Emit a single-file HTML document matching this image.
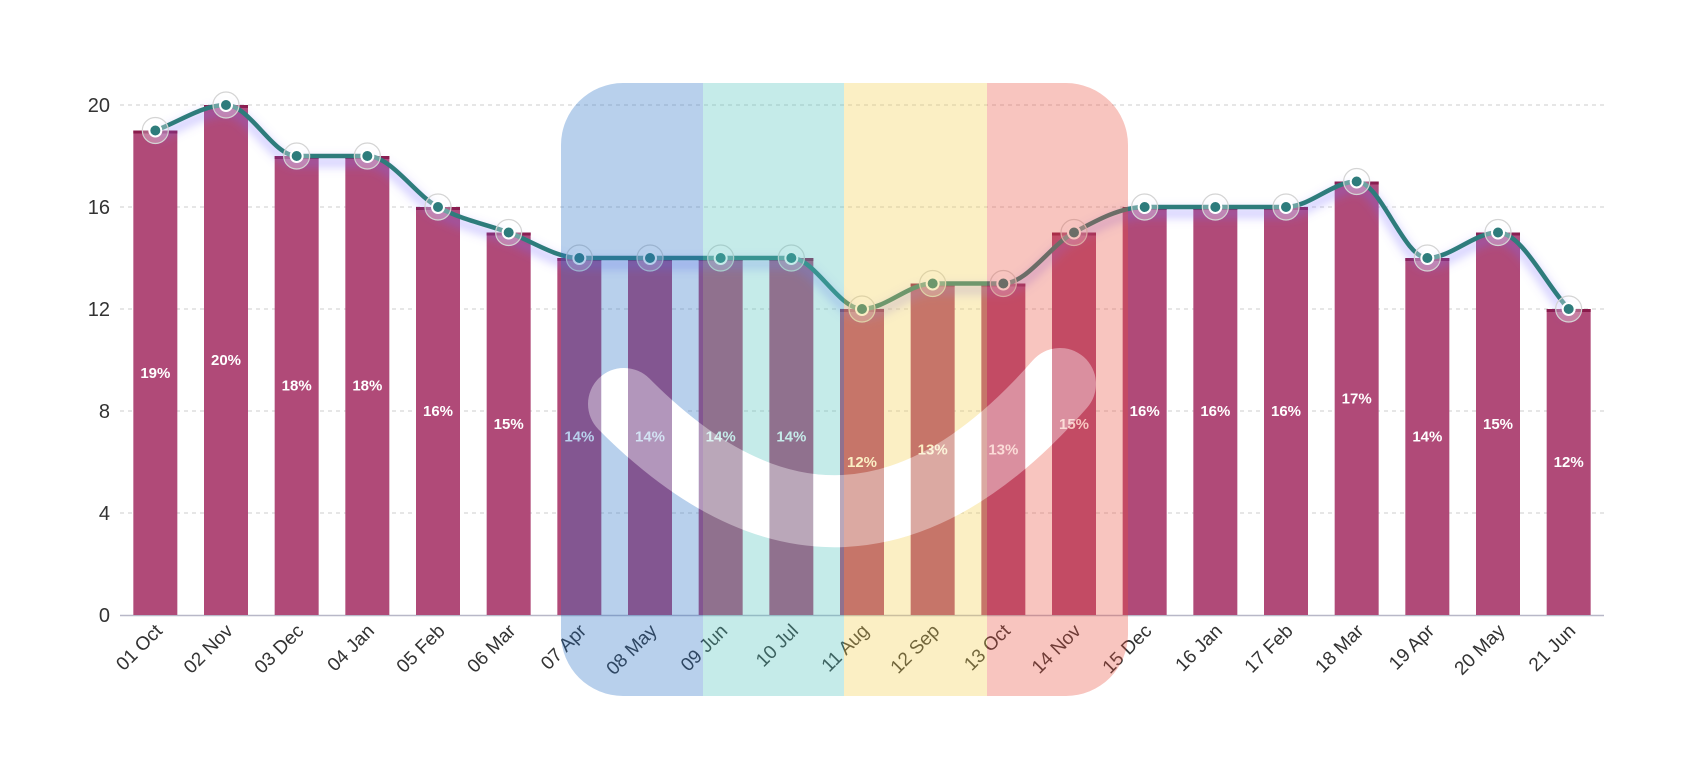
<!DOCTYPE html>
<html><head><meta charset="utf-8"><style>
html,body{margin:0;padding:0;background:#fff;}
svg{display:block;font-family:"Liberation Sans",sans-serif;}
</style></head><body>
<svg id="chart" width="1688" height="778" viewBox="0 0 1688 778" xmlns="http://www.w3.org/2000/svg">
<defs>
<filter id="glow" x="-10%" y="-50%" width="120%" height="200%"><feGaussianBlur stdDeviation="5"/></filter>
<mask id="gapmask" maskUnits="userSpaceOnUse" x="0" y="0" width="1688" height="778"><rect x="0" y="0" width="1688" height="778" fill="#fff"/><g id="maskbars"></g></mask>
</defs>
<g id="grid"></g>
<g id="yaxis"></g>
<g id="bars"></g>
<g id="labels"></g>
<g id="line"></g>
<g id="xaxis"></g>
<g id="overlay"></g>
<path mask="url(#gapmask)" d="M 624 404 Q 846 628 1060 384" fill="none" stroke="#fff" stroke-width="72" stroke-linecap="round"/>
<path d="M 624 404 Q 846 628 1060 384" fill="none" stroke="#fff" stroke-opacity="0.38" stroke-width="72" stroke-linecap="round"/>
</svg>
<script>
const categories=["01 Oct","02 Nov","03 Dec","04 Jan","05 Feb","06 Mar","07 Apr","08 May","09 Jun","10 Jul","11 Aug","12 Sep","13 Oct","14 Nov","15 Dec","16 Jan","17 Feb","18 Mar","19 Apr","20 May","21 Jun"];
const barValues=[19,20,18,18,16,15,14,14,14,14,12,13,13,15,16,16,16,17,14,15,12];
const lineValues=[19,20,18,18,16,15,14,14,14,14,12,13,13,15,16,16,16,17,14,15,12];
const yTicks=[0,4,8,12,16,20];
const NS="http://www.w3.org/2000/svg";
const X0=120,X1=1604,Y0=615,YTOP=105,YMAX=20;
const band=(X1-X0)/categories.length;
function xs(i){return X0+band*(i+0.5);}
function ys(v){return Y0-(Y0-YTOP)*v/YMAX;}
function mk(tag,attrs,parent){const e=document.createElementNS(NS,tag);for(const k in attrs)e.setAttribute(k,attrs[k]);parent.appendChild(e);return e;}
const grid=document.getElementById('grid'),yaxis=document.getElementById('yaxis');
yTicks.forEach(t=>{
  if(t>0){const g=mk('line',{x1:X0,x2:X1,y1:ys(t),y2:ys(t),stroke:'#d8d8d8','stroke-width':1.2,'stroke-dasharray':'4 4'},grid);
  
  }
  const tx=mk('text',{x:110,y:ys(t)+7,'text-anchor':'end','font-size':20,fill:'#333'},yaxis);
  tx.textContent=t;
  
  
});
const ax=mk('line',{x1:X0,x2:X1,y1:Y0+0.5,y2:Y0+0.5,stroke:'#b8b8c8','stroke-width':1.5},grid);


const bars=document.getElementById('bars'),labels=document.getElementById('labels'),xaxis=document.getElementById('xaxis');
const maskbars=document.getElementById('maskbars');
const bw=44;
barValues.forEach((v,i)=>{
  const x=xs(i)-bw/2,y=ys(v);
  const r=mk('rect',{x:x,y:y,width:bw,height:Y0-y,fill:'#b04a78'},bars);
  
  
  mk('rect',{x:x,y:y,width:bw,height:Y0-y,fill:'#000'},maskbars);
  const c=mk('rect',{x:x,y:y,width:bw,height:3,fill:'#8a1c4c'},bars);
  
  
  const t=mk('text',{x:xs(i),y:ys(v/2)+5,'text-anchor':'middle','font-size':15,'font-weight':'bold',fill:'#fff'},labels);
  t.textContent=v+'%';
  
  
  const lx=xs(i)+8,ly=632;
  const xt=mk('text',{x:lx,y:ly,'text-anchor':'end','font-size':19,fill:'#333',transform:'rotate(-45 '+lx+' '+ly+')'},xaxis);
  xt.textContent=categories[i];
  
  
});
const pts=lineValues.map((v,i)=>[xs(i),ys(v)]);
function monotone(p){
  const n=p.length,d=[],m=[];
  for(let i=0;i<n-1;i++)d.push((p[i+1][1]-p[i][1])/(p[i+1][0]-p[i][0]));
  for(let i=0;i<n;i++){
    if(i===0)m.push(d[0]);else if(i===n-1)m.push(d[n-2]);
    else m.push(d[i-1]*d[i]<=0?0:(d[i-1]+d[i])/2);
  }
  for(let i=0;i<n-1;i++){if(d[i]===0){m[i]=0;m[i+1]=0;}}
  let s='M'+p[0][0]+' '+p[0][1];
  for(let i=0;i<n-1;i++){
    const h=(p[i+1][0]-p[i][0])/3;
    s+=' C'+(p[i][0]+h)+' '+(p[i][1]+m[i]*h)+' '+(p[i+1][0]-h)+' '+(p[i+1][1]-m[i+1]*h)+' '+p[i+1][0]+' '+p[i+1][1];
  }
  return s;
}
const lg=document.getElementById('line');
const dpath=monotone(pts);
const gl=mk('path',{d:dpath,fill:'none',stroke:'#7a6cff','stroke-opacity':0.4,'stroke-width':8,filter:'url(#glow)',transform:'translate(0,6)'},lg);


const lp=mk('path',{d:dpath,fill:'none',stroke:'#2e7c7c','stroke-width':4.5},lg);


pts.forEach(p=>{
  const h=mk('circle',{cx:p[0],cy:p[1],r:13,fill:'#fff','fill-opacity':0.3,stroke:'#d4d4d4','stroke-width':1.2},lg);
  
  
  const c=mk('circle',{cx:p[0],cy:p[1],r:6,fill:'#2e7c7c',stroke:'#fff','stroke-width':2},lg);
  
  
});
const ov=document.getElementById('overlay');
const cp=mk('clipPath',{id:'ovclip'},document.querySelector('defs'));
mk('rect',{x:561,y:83,width:567,height:613,rx:62,ry:62},cp);
const og=mk('g',{'clip-path':'url(#ovclip)'},ov);
const bandsCol=[[561,703,'rgba(40,112,197,0.33)','overlay-blue'],[703,844,'rgba(79,194,188,0.33)','overlay-teal'],[844,987,'rgba(242,206,76,0.33)','overlay-yellow'],[987,1128,'rgba(233,79,61,0.33)','overlay-red']];
bandsCol.forEach(b=>{
  const r=mk('rect',{x:b[0],y:83,width:b[1]-b[0],height:613,fill:b[2]},og);
  
  
});
</script>
</body></html>
